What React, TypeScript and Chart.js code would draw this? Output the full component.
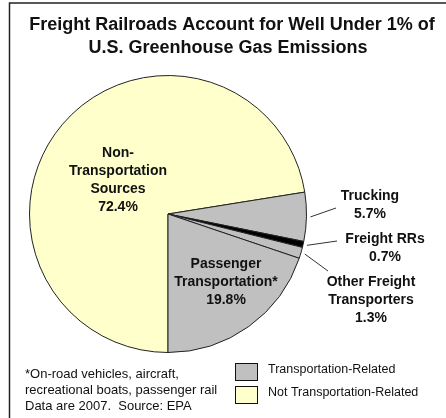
import { useEffect, useRef } from "react";
import { Chart, PieController, ArcElement } from "chart.js";

Chart.register(PieController, ArcElement);

const titleLines = ["Freight Railroads Account for Well Under 1% of", "U.S. Greenhouse Gas Emissions"];
const categories = ["Non-Transportation Sources", "Trucking", "Freight RRs", "Other Freight Transporters", "Passenger Transportation*"];
const shares = [72.4, 5.7, 0.7, 1.3, 19.8];
const labelLines = [["Non-", "Transportation", "Sources"], ["Trucking"], ["Freight RRs"], ["Other Freight", "Transporters"], ["Passenger", "Transportation*"]];
const sliceColors = ["#ffffcc", "#c0c0c0", "#000000", "#c0c0c0", "#c0c0c0"];
const legendItems = ["Transportation-Related", "Not Transportation-Related"];
const legendColors = ["#c0c0c0", "#ffffcc"];
const footnote = ["*On-road vehicles, aircraft,", "recreational boats, passenger rail", "Data are 2007.  Source: EPA"];

// label layout: block centre offsets from pie centre, and leader line end points (offsets), null = inside
const labelOffsets = [[-50, -34], [202, -9], [217, 34], [203, 86], [58, 68]];
const leaderEnds: (number[] | null)[] = [null, [168, -6], [169, 27], [160, 57], null];

const FONT = "'Liberation Sans', Arial, sans-serif";

const overlay = {
  id: "overlay",
  afterDraw(chart: any) {
    const ctx = chart.ctx as CanvasRenderingContext2D;
    const meta = chart.getDatasetMeta(0);
    const arc0 = meta.data[0];
    const cx = arc0.x, cy = arc0.y, r = arc0.outerRadius;
    ctx.save();
    // frame
    ctx.strokeStyle = "#222";
    ctx.lineWidth = 1.5;
    ctx.beginPath();
    ctx.moveTo(9.5, 418);
    ctx.lineTo(9.5, 3);
    ctx.lineTo(446, 3);
    ctx.stroke();

    ctx.fillStyle = "#111";
    ctx.textAlign = "center";
    ctx.textBaseline = "middle";
    ctx.font = `bold 18px ${FONT}`;
    ctx.fillText(titleLines[0], 232, 25);
    ctx.fillText(titleLines[1], 228, 48);

    // slice labels
    ctx.font = `bold 14px ${FONT}`;
    const lh = 18;
    labelLines.forEach((lines, i) => {
      const all = [...lines, `${shares[i].toFixed(1)}%`];
      const bx = cx + labelOffsets[i][0];
      const by = cy + labelOffsets[i][1];
      const h = (all.length - 1) * lh;
      all.forEach((t, j) => ctx.fillText(t, bx, by - h / 2 + j * lh));
    });

    // leader lines
    ctx.strokeStyle = "#333";
    ctx.lineWidth = 1;
    meta.data.forEach((arc: any, i: number) => {
      const end = leaderEnds[i];
      if (!end) return;
      const mid = (arc.startAngle + arc.endAngle) / 2;
      const sx = cx + Math.cos(mid) * (r + 4);
      const sy = cy + Math.sin(mid) * (r + 4);
      ctx.beginPath();
      ctx.moveTo(sx, sy);
      ctx.lineTo(cx + end[0], cy + end[1]);
      ctx.stroke();
    });

    // footnote
    ctx.font = `13px ${FONT}`;
    ctx.textAlign = "left";
    footnote.forEach((t, j) => ctx.fillText(t, 25, 374 + j * 16));

    // legend
    ctx.font = `12.5px ${FONT}`;
    legendItems.forEach((t, j) => {
      const y = 363 + j * 23;
      ctx.fillStyle = legendColors[j];
      ctx.fillRect(235, y, 22, 17);
      ctx.strokeStyle = "#111";
      ctx.strokeRect(235.5, y + 0.5, 22, 17);
      ctx.fillStyle = "#111";
      ctx.fillText(t, 268, y + 7);
    });
    ctx.restore();
  },
};

export default function App() {
  const ref = useRef<HTMLCanvasElement>(null);
  useEffect(() => {
    if (!ref.current) return;
    const chart = new Chart(ref.current, {
      type: "pie",
      data: {
        labels: categories,
        datasets: [
          {
            data: shares,
            backgroundColor: sliceColors,
            borderColor: "#222",
            borderWidth: 1,
          },
        ],
      },
      options: {
        animation: false,
        responsive: false,
        rotation: 180,
        layout: { padding: { left: 29, right: 139, top: 75, bottom: 65 } },
        plugins: { legend: { display: false }, tooltip: { enabled: false } },
        events: [],
      },
      plugins: [overlay],
    });
    return () => chart.destroy();
  }, []);
  return (
    <div style={{ position: "absolute", left: 0, top: 0, width: 446, height: 418, background: "#fff" }}>
      <canvas ref={ref} width={446} height={418} style={{ display: "block" }} />
    </div>
  );
}
